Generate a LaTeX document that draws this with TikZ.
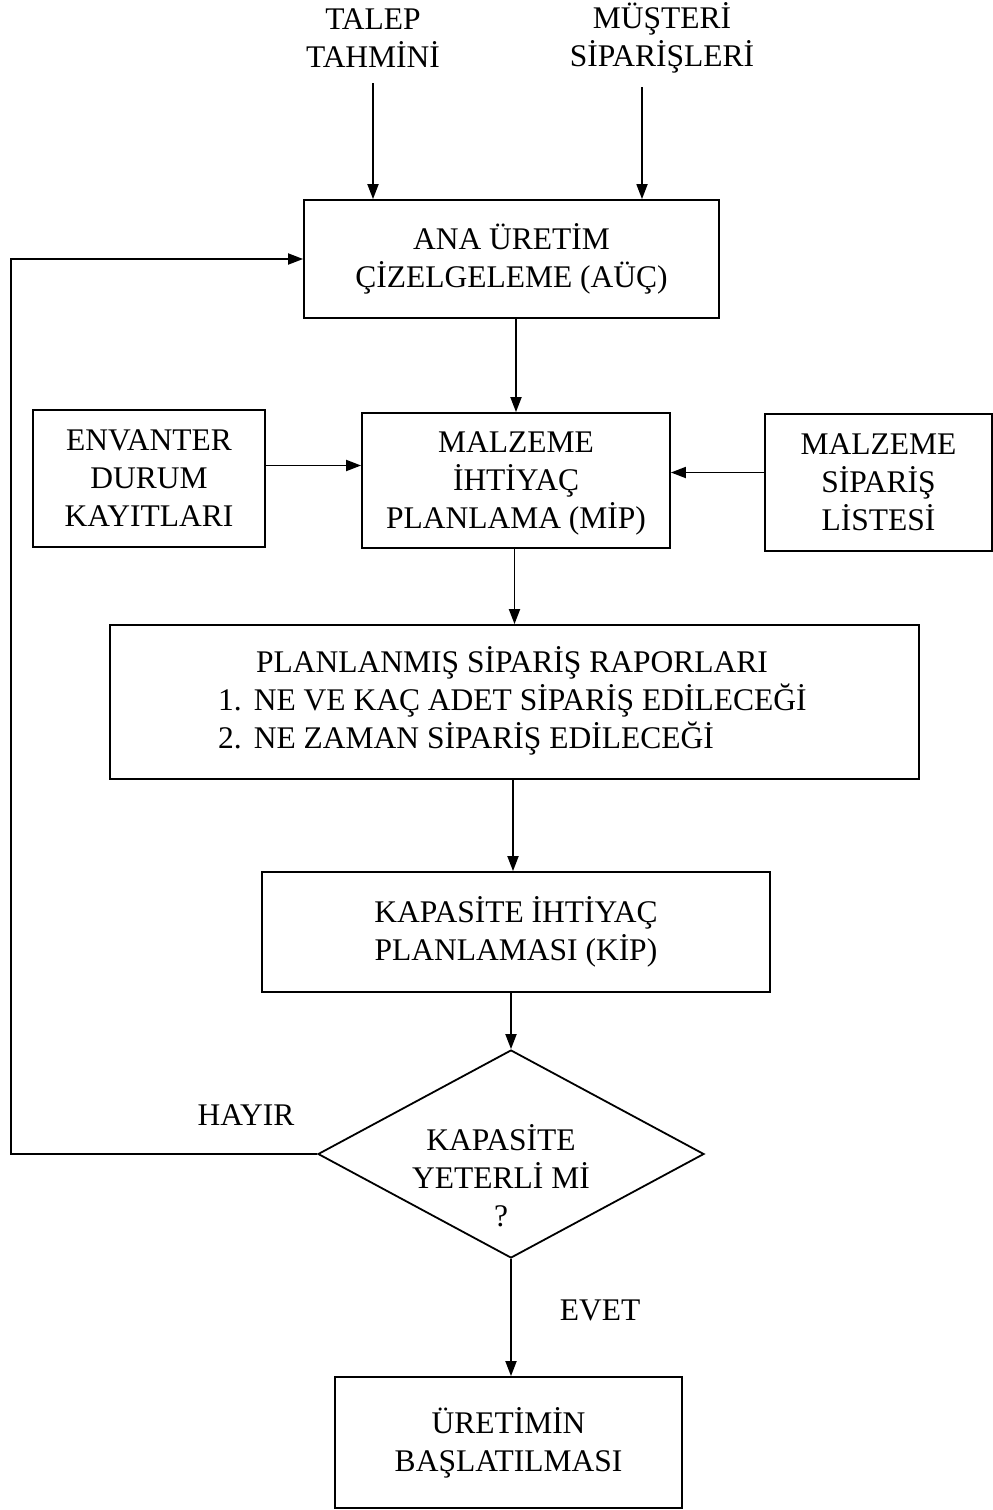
\documentclass[tikz,border=0pt]{standalone}
\usepackage{fontspec}
\setmainfont{Liberation Serif}
\usetikzlibrary{arrows.meta,shapes.geometric,calc}
\begin{document}
\begin{tikzpicture}[x=1pt,y=-1pt,
  every node/.style={font=\fontsize{31.5}{38}\selectfont, align=center, inner sep=0pt},
  box/.style={draw, line width=1.8pt},
  arr/.style={line width=1.8pt, -{Triangle[length=15pt,width=11pt]}},
  ln/.style={line width=1.8pt}]
\useasboundingbox (0,0) rectangle (993,1510);

% inputs
\node (talep) at (373,38) {TALEP\\TAHMİNİ};
\node (musteri) at (662,38) {MÜŞTERİ\\SİPARİŞLERİ};

% main chain
\node[box, minimum width=415, minimum height=118] (auc) at (511.5,259) {ANA ÜRETİM\\ÇİZELGELEME (AÜÇ)};
\node[box, minimum width=308, minimum height=135] (mip) at (516,480.5) {};
\node (miptext) at (516,483) {MALZEME\\İHTİYAÇ\\PLANLAMA (MİP)};
\node[box, minimum width=232, minimum height=137] (env) at (149,478.5) {ENVANTER\\DURUM\\KAYITLARI};
\node[box, minimum width=227, minimum height=137] (msl) at (878.5,482.5) {MALZEME\\SİPARİŞ\\LİSTESİ};
\node[box, minimum width=809, minimum height=154] (plan) at (514.5,702) {};
\node[anchor=west, align=left] (plantext) at (218,701) {\hspace*{38pt}PLANLANMIŞ SİPARİŞ RAPORLARI\\
  1.\hspace{12pt}NE VE KAÇ ADET SİPARİŞ EDİLECEĞİ\\
  2.\hspace{12pt}NE ZAMAN SİPARİŞ EDİLECEĞİ};
\node[box, minimum width=508, minimum height=120] (kip) at (516,932) {KAPASİTE İHTİYAÇ\\PLANLAMASI (KİP)};

% decision
\node[draw, diamond, line width=1.8pt, minimum width=386, minimum height=208] (dec) at (511,1154) {};
\node (dectext) at (501,1176) {KAPASİTE\\YETERLİ Mİ\\?};

\node[box, minimum width=347, minimum height=131] (fin) at (508.5,1442.5) {ÜRETİMİN\\BAŞLATILMASI};

% labels
\node (hayir) at (246,1115) {HAYIR};
\node (evet) at (600,1310) {EVET};

% free ends of the input arrows
\coordinate (ta) at (373,83);
\coordinate (ma) at (642,87);

% connectors
\draw[arr] (ta) -- (ta |- auc.north);
\draw[arr] (ma) -- (ma |- auc.north);
\draw[arr] (auc.south -| mip.north) -- (mip.north);
\draw[arr] ([yshift=13pt]env.east) -- ([yshift=13pt]env.east -| mip.west);
\draw[arr] ([yshift=10pt]msl.west) -- ([yshift=10pt]msl.west -| mip.east);
\draw[arr] (mip.south -| plan.north) -- (plan.north);
\draw[arr] (plan.south -| 513,0) -- (kip.north -| 513,0);
\draw[arr] (kip.south -| dec.north) -- (dec.north);
\draw[arr] (dec.south) -- (dec.south |- fin.north);
\draw[arr] (dec.west) -- ++(-306,0) |- (auc.west);
\end{tikzpicture}
\end{document}
